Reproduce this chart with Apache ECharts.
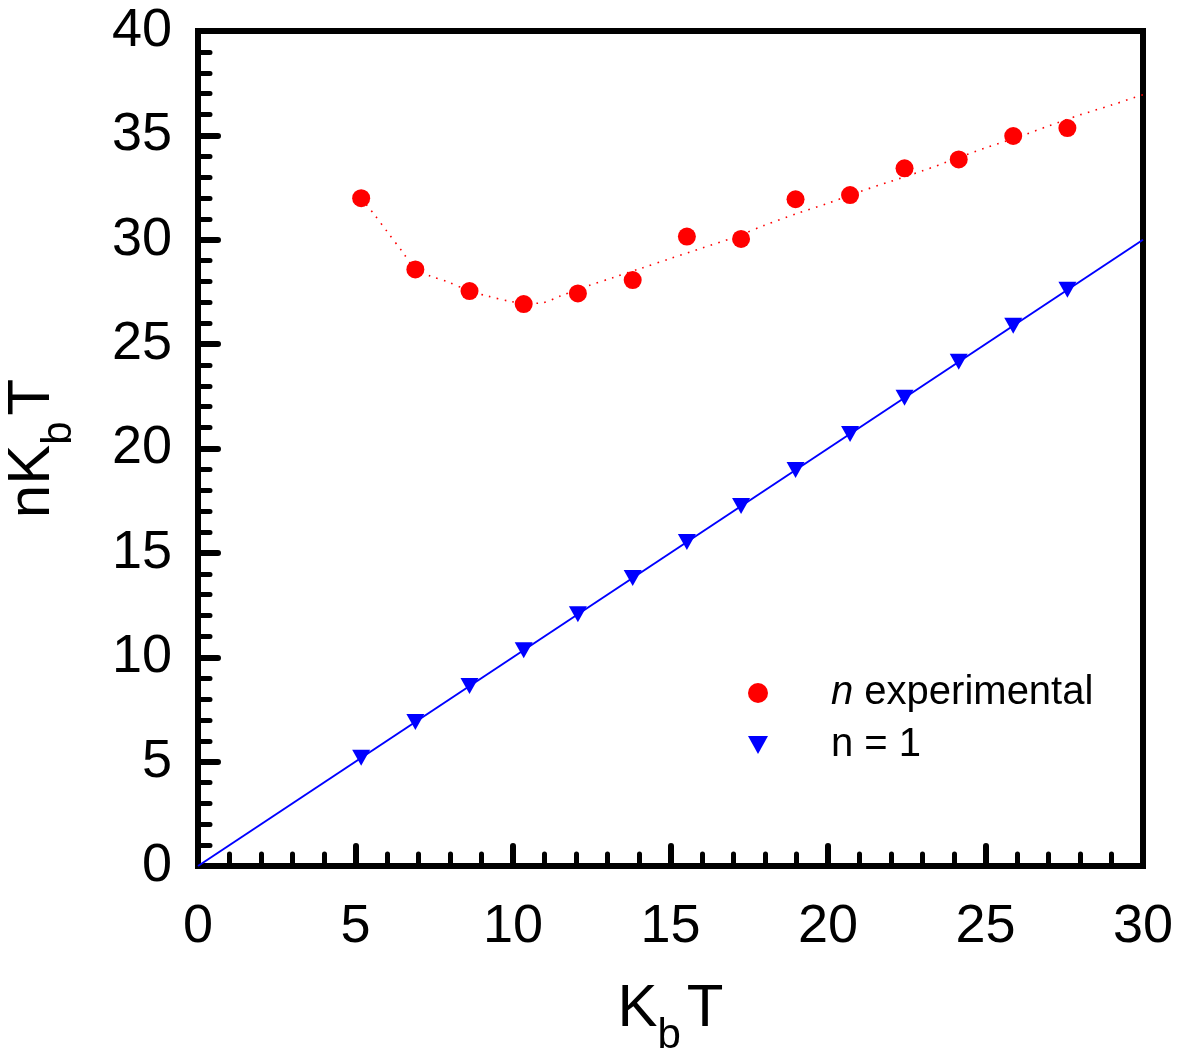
<!DOCTYPE html>
<html>
<head>
<meta charset="utf-8">
<title>nKbT vs KbT</title>
<script src="https://cdn.jsdelivr.net/npm/echarts@6/dist/echarts.min.js"></script>
<style>
  html, body { margin: 0; padding: 0; background: #fff; }
  #chart { width: 1181px; height: 1050px; }
</style>
</head>
<body>
<div id="chart"></div>
<script>
// Measured points (K_b T on x, n K_b T on y)
const kbT = [5.18, 6.9, 8.62, 10.34, 12.06, 13.8, 15.52, 17.24, 18.97, 20.7, 22.43, 24.15, 25.88, 27.6];
const nExperimental = [31.99, 28.58, 27.54, 26.92, 27.43, 28.07, 30.15, 30.04, 31.94, 32.14, 33.42, 33.85, 34.97, 35.35];
const nOne = [5.18, 6.9, 8.62, 10.34, 12.06, 13.8, 15.52, 17.24, 18.97, 20.7, 22.43, 24.15, 25.88, 27.6];

// Guide curve through the experimental points (dotted)
const guideX = [5.18, 5.6, 6.0, 6.5, 6.9, 7.4, 7.9, 8.62, 9.2, 9.9, 10.4, 10.9, 11.5, 12.4, 13.2, 14.1, 15.0, 16.0, 17.0, 18.0, 19.0, 20.0, 21.0, 22.0, 23.0, 24.0, 25.0, 26.0, 27.0, 28.0, 29.0, 30.0];
const guideY = [31.99, 31.2, 30.4, 29.4, 28.6, 28.25, 28.0, 27.55, 27.3, 27.05, 26.95, 26.97, 27.3, 27.8, 28.2, 28.65, 29.1, 29.6, 30.1, 30.7, 31.25, 31.75, 32.3, 32.8, 33.3, 33.85, 34.4, 34.9, 35.45, 35.98, 36.45, 36.95];

// n = 1 reference line
const refX = [0, 30];
const refY = [0, 30];

const xTicks = { min: 0, max: 30, step: 5 };
const yTicks = { min: 0, max: 40, step: 5 };

const pair = (xs, ys) => xs.map((x, i) => [x, ys[i]]);

const FONT = 'Arial, "Liberation Sans", sans-serif';
const titleRich = {
  m: { fontSize: 60, fontFamily: FONT, color: '#000', verticalAlign: 'top', lineHeight: 84 },
  s: { fontSize: 42, fontFamily: FONT, color: '#000', verticalAlign: 'top', padding: [36, 6, 0, 0], lineHeight: 84 }
};

const chart = echarts.init(document.getElementById('chart'), null, { renderer: 'canvas' });

const axisCommon = {
  type: 'value',
  splitLine: { show: false },
  axisLine: { show: true, onZero: false, lineStyle: { color: '#000', width: 6 } },
  axisTick: { show: true, inside: true, length: 20, lineStyle: { color: '#000', width: 6, cap: 'round' } },
  minorTick: { show: true, splitNumber: 5, length: 12, lineStyle: { color: '#000', width: 5, cap: 'round' } },
  minorSplitLine: { show: false },
  axisLabel: { color: '#000', fontSize: 54, fontFamily: FONT }
};

chart.setOption({
  animation: false,
  backgroundColor: '#fff',
  grid: {
    left: 198, top: 31, right: 38, bottom: 184,
    containLabel: false,
    outerBoundsMode: 'none',
    show: true, borderColor: '#000', borderWidth: 6, backgroundColor: 'transparent'
  },
  legend: {
    orient: 'vertical',
    left: 743, top: 668,
    itemWidth: 20, itemHeight: 20,
    itemGap: 12,
    data: [
      { name: 'n experimental', icon: 'circle' },
      { name: 'n = 1', icon: 'path://M0,0 L18,0 L9,16 Z' }
    ],
    formatter: name => name === 'n experimental' ? '{i|n} {t|experimental}' : '{t|' + name + '}',
    textStyle: {
      color: '#000', fontSize: 40, fontFamily: FONT,
      padding: [0, 0, 0, 58],
      rich: {
        i: { fontStyle: 'italic', fontSize: 40, fontFamily: FONT, color: '#000' },
        t: { fontSize: 40, fontFamily: FONT, color: '#000' }
      }
    }
  },
  xAxis: Object.assign({}, axisCommon, {
    min: xTicks.min, max: xTicks.max, interval: xTicks.step,
    axisLabel: Object.assign({}, axisCommon.axisLabel, { margin: 34 }),
    name: '{m|K}{s|b}{m|T}',
    nameLocation: 'middle', nameGap: 113,
    nameTextStyle: { rich: titleRich }
  }),
  yAxis: Object.assign({}, axisCommon, {
    min: yTicks.min, max: yTicks.max, interval: yTicks.step,
    axisLabel: Object.assign({}, axisCommon.axisLabel, { margin: 26, padding: [6, 0, 0, 0] }),
    name: '{m|nK}{s|b}{m|T}',
    nameLocation: 'middle', nameGap: 112, nameRotate: 90,
    nameTextStyle: { rich: titleRich }
  }),
  series: [
    {
      name: 'n = 1 line',
      type: 'line',
      data: pair(refX, refY),
      showSymbol: false,
      lineStyle: { color: '#0000ff', width: 2 },
      clip: true, z: 2
    },
    {
      name: 'guide',
      type: 'line',
      data: pair(guideX, guideY),
      smooth: 0.3,
      showSymbol: false,
      lineStyle: { color: '#ff0000', width: 1.6, type: [1.6, 6.4] },
      clip: true, z: 2
    },
    {
      name: 'n experimental',
      type: 'scatter',
      data: pair(kbT, nExperimental),
      symbol: 'circle',
      symbolSize: 18,
      itemStyle: { color: '#ff0000', opacity: 1 },
      z: 3
    },
    {
      name: 'n = 1',
      type: 'scatter',
      data: pair(kbT, nOne),
      symbol: 'triangle',
      symbolRotate: 180,
      symbolSize: [18, 16],
      itemStyle: { color: '#0000ff', opacity: 1 },
      z: 3
    }
  ]
});
</script>
</body>
</html>
